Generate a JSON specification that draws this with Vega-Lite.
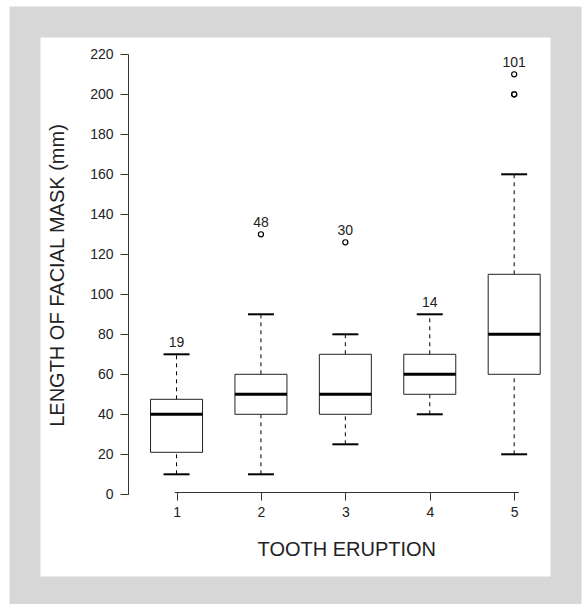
{
  "$schema": "https://vega.github.io/schema/vega-lite/v6.json",
  "width": 541,
  "height": 570,
  "autosize": {"type": "none"},
  "padding": {"left": 25, "top": 22, "right": 16, "bottom": 12},
  "background": "white",
  "view": {"fill": "white", "stroke": "#d7d7d7", "strokeWidth": 31},
  "datasets": {
    "boxes": [
      {"cat": 1, "lower": 10, "q1": 21, "median": 40, "q3": 47.5, "upper": 70, "n": 19, "max": 70},
      {"cat": 2, "lower": 10, "q1": 40, "median": 50, "q3": 60, "upper": 90, "n": 48, "max": 130},
      {"cat": 3, "lower": 25, "q1": 40, "median": 50, "q3": 70, "upper": 80, "n": 30, "max": 126},
      {"cat": 4, "lower": 40, "q1": 50, "median": 60, "q3": 70, "upper": 90, "n": 14, "max": 90},
      {"cat": 5, "lower": 20, "q1": 60, "median": 80, "q3": 110, "upper": 160, "n": 101, "max": 210}
    ],
    "outliers": [
      {"cat": 2, "value": 130},
      {"cat": 3, "value": 126},
      {"cat": 5, "value": 200},
      {"cat": 5, "value": 200},
      {"cat": 5, "value": 210}
    ]
  },
  "config": {
    "font": "Liberation Sans",
    "axis": {
      "grid": false,
      "domainColor": "#333333",
      "tickColor": "#333333",
      "labelColor": "#222222",
      "titleColor": "#222222",
      "labelFont": "Liberation Sans",
      "titleFont": "Liberation Sans",
      "labelFontSize": 14,
      "titleFontSize": 20,
      "titleFontWeight": "normal",
      "tickSize": 8,
      "domainWidth": 1,
      "tickWidth": 1,
      "labelFlush": false
    }
  },
  "encoding": {
    "x": {
      "field": "cat",
      "type": "quantitative",
      "scale": {"domain": [-0.736, 5.5547], "nice": false, "zero": false},
      "axis": {
        "title": "TOOTH ERUPTION",
        "values": [1, 2, 3, 4, 5],
        "format": "d",
        "offset": -100,
        "domainDash": [0, 149.3, 344, 1000],
        "labelPadding": 5,
        "titleX": 321.3,
        "titleY": 63,
        "titleAlign": "center",
        "titleBaseline": "alphabetic"
      }
    }
  },
  "layer": [
    {
      "data": {"name": "boxes"},
      "mark": {"type": "rule", "strokeDash": [4, 4], "color": "black", "strokeWidth": 1},
      "encoding": {
        "y": {
          "field": "lower",
          "type": "quantitative",
          "scale": {"domain": [-48.85, 236.15], "nice": false, "zero": false},
          "axis": {
            "title": "LENGTH OF FACIAL MASK (mm)",
            "values": [0, 20, 40, 60, 80, 100, 120, 140, 160, 180, 200, 220],
            "offset": -103,
            "domainDash": [0, 97.7, 440.3, 1000],
            "labelPadding": 7,
            "titleX": -65,
            "titleY": 253,
            "titleAngle": 270,
            "titleAlign": "center",
            "titleBaseline": "alphabetic"
          }
        },
        "y2": {"field": "q1"}
      }
    },
    {
      "data": {"name": "boxes"},
      "mark": {"type": "rule", "strokeDash": [4, 4], "color": "black", "strokeWidth": 1},
      "encoding": {
        "y": {"field": "q3", "type": "quantitative", "scale": {"domain": [-48.85, 236.15], "nice": false, "zero": false}},
        "y2": {"field": "upper"}
      }
    },
    {
      "data": {"name": "boxes"},
      "mark": {"type": "tick", "orient": "horizontal", "size": 26, "thickness": 2, "color": "black", "opacity": 1},
      "encoding": {
        "y": {"field": "lower", "type": "quantitative", "scale": {"domain": [-48.85, 236.15], "nice": false, "zero": false}}
      }
    },
    {
      "data": {"name": "boxes"},
      "mark": {"type": "tick", "orient": "horizontal", "size": 26, "thickness": 2, "color": "black", "opacity": 1},
      "encoding": {
        "y": {"field": "upper", "type": "quantitative", "scale": {"domain": [-48.85, 236.15], "nice": false, "zero": false}}
      }
    },
    {
      "data": {"name": "boxes"},
      "mark": {"type": "bar", "size": 52, "fill": "white", "stroke": "#222222", "strokeWidth": 1, "orient": "vertical"},
      "encoding": {
        "y": {"field": "q1", "type": "quantitative", "scale": {"domain": [-48.85, 236.15], "nice": false, "zero": false}},
        "y2": {"field": "q3"}
      }
    },
    {
      "data": {"name": "boxes"},
      "mark": {"type": "tick", "orient": "horizontal", "size": 52, "thickness": 3, "color": "black", "opacity": 1},
      "encoding": {
        "y": {"field": "median", "type": "quantitative", "scale": {"domain": [-48.85, 236.15], "nice": false, "zero": false}}
      }
    },
    {
      "data": {"name": "outliers"},
      "mark": {"type": "point", "shape": "circle", "filled": false, "size": 26, "stroke": "black", "strokeWidth": 1.2, "opacity": 1},
      "encoding": {
        "y": {"field": "value", "type": "quantitative", "scale": {"domain": [-48.85, 236.15], "nice": false, "zero": false}}
      }
    },
    {
      "data": {"name": "boxes"},
      "mark": {"type": "text", "baseline": "alphabetic", "dy": -7, "fontSize": 14, "color": "#222222", "font": "Liberation Sans"},
      "encoding": {
        "y": {"field": "max", "type": "quantitative", "scale": {"domain": [-48.85, 236.15], "nice": false, "zero": false}},
        "text": {"field": "n", "type": "nominal"}
      }
    }
  ]
}
